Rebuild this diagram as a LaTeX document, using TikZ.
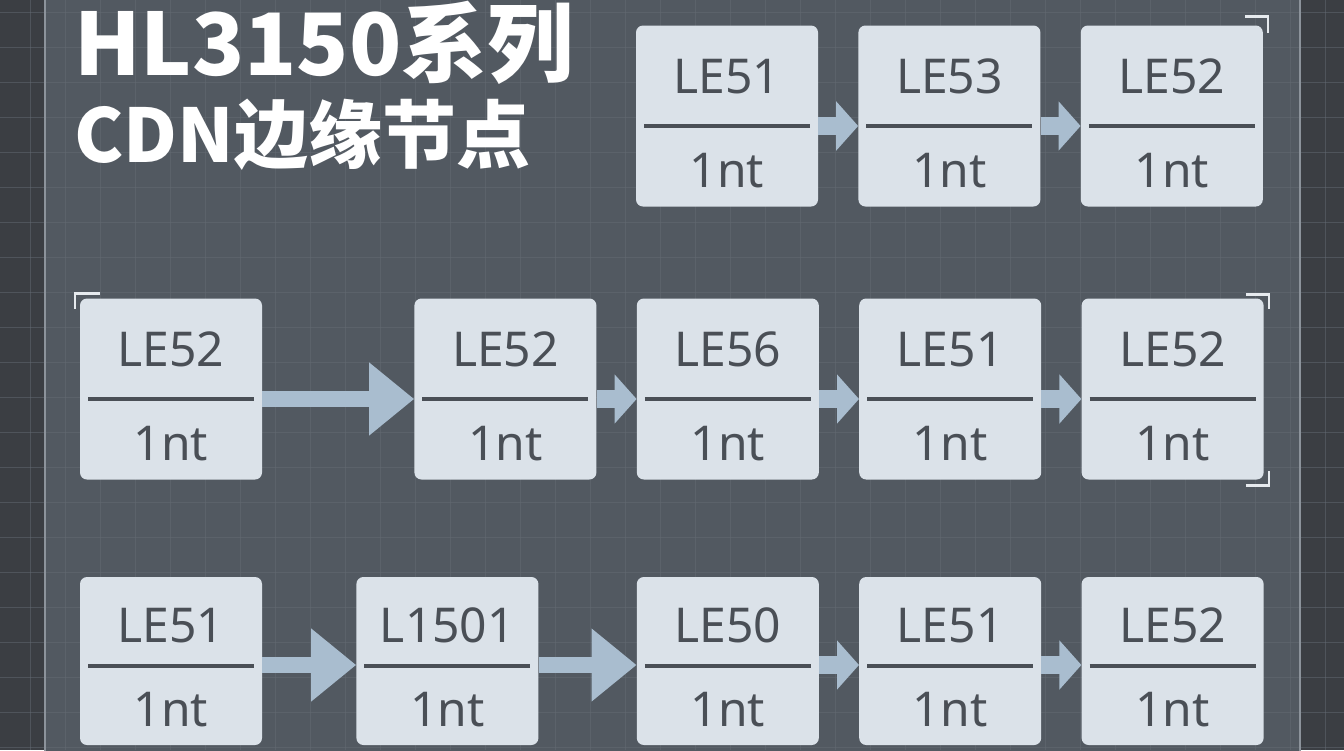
\documentclass[tikz,border=0pt]{standalone}
\usepackage{fontspec}
\setmainfont{Noto Sans}
\newfontfamily\cjk{Noto Sans CJK SC}
\usetikzlibrary{positioning, arrows.meta}

\definecolor{bgdark}{HTML}{3B3E43}
\definecolor{panel}{HTML}{525961}
\definecolor{panelline}{HTML}{8C939B}
\definecolor{gridc}{HTML}{646B73}
\definecolor{boxfill}{HTML}{DBE2E9}
\definecolor{txtcol}{HTML}{4A4F56}
\definecolor{arrowc}{HTML}{A9BDCF}
\definecolor{brk}{HTML}{E6EAEE}

\begin{document}
\begin{tikzpicture}[x=1pt, y=-1pt, node distance=40pt,
    cdn/.style={rectangle, rounded corners=7pt, fill=boxfill, text=txtcol,
      font=\fontsize{48}{48}\selectfont, minimum width=182pt, inner sep=0pt,
      text height=35pt},
    lowlbl/.style={font=\fontsize{48}{48}\selectfont, text=txtcol, inner sep=0pt},
    divider/.style={line width=4pt, txtcol},
    high/.style={cdn, minimum height=181pt, text depth=80pt,
      label={[lowlbl, yshift=-55pt]center:1nt},
      path picture={\draw[divider] ([xshift=8pt, yshift=-10pt]path picture bounding box.west)
        -- ([xshift=-8pt, yshift=-10pt]path picture bounding box.east);}},
    low/.style={cdn, minimum height=168pt, text depth=73pt,
      label={[lowlbl, yshift=-49pt]center:1nt},
      path picture={\draw[divider] ([xshift=8pt, yshift=-5pt]path picture bounding box.west)
        -- ([xshift=-8pt, yshift=-5pt]path picture bounding box.east);}},
    flowshort/.style={draw=arrowc, line width=18pt, -{Triangle[length=22pt, width=48pt]}},
    flowlong/.style={draw=arrowc, line width=16pt, -{Triangle[length=45pt, width=70pt]}},
    bracket/.style={draw=brk, line width=2.5pt},
    titletxt/.style={text=white, anchor=base west, inner sep=0pt}]

  % background and panel
  \useasboundingbox (0,0) rectangle (1344,750);
  \fill[bgdark] (0,0) rectangle (1344,750);
  \fill[panel] (45,-5) rectangle (1300,755);
  \foreach \gx in {30,65,...,1344} \draw[gridc, opacity=0.5, line width=0.8pt] (\gx,0) -- (\gx,750);
  \foreach \gy in {12,47,...,750} \draw[gridc, opacity=0.5, line width=0.8pt] (0,\gy) -- (1344,\gy);
  \draw[panelline, line width=2pt] (45,-5) -- (45,755);
  \draw[panelline, line width=2pt] (1300,-5) -- (1300,755);

  % title
  \node[titletxt, font=\cjk\bfseries\fontsize{86}{86}\selectfont] (title1) at (74,75) {HL3150系列};
  \node[titletxt, font=\cjk\bfseries\fontsize{74}{74}\selectfont] (title2) at (74,162) {CDN边缘节点};

  % row 1
  \node[high] (r1a) at (727,116) {LE51};
  \node[high, right=of r1a] (r1b) {LE53};
  \node[high, right=of r1b] (r1c) {LE52};
  \draw[flowshort] ([yshift=-10pt]r1a.east) -- ([yshift=-10pt]r1b.west);
  \draw[flowshort] ([yshift=-10pt]r1b.east) -- ([yshift=-10pt]r1c.west);

  % row 2
  \node[high] (r2a) at (171,389) {LE52};
  \node[high, right=152pt of r2a] (r2b) {LE52};
  \node[high, right=of r2b] (r2c) {LE56};
  \node[high, right=of r2c] (r2d) {LE51};
  \node[high, right=of r2d] (r2e) {LE52};
  \draw[flowlong] ([yshift=-10pt]r2a.east) -- ([yshift=-10pt]r2b.west);
  \draw[flowshort] ([yshift=-10pt]r2b.east) -- ([yshift=-10pt]r2c.west);
  \draw[flowshort] ([yshift=-10pt]r2c.east) -- ([yshift=-10pt]r2d.west);
  \draw[flowshort] ([yshift=-10pt]r2d.east) -- ([yshift=-10pt]r2e.west);

  % row 3
  \node[low] (r3a) at (171,661) {LE51};
  \node[low, right=94pt of r3a] (r3b) {L1501};
  \node[low, right=98pt of r3b] (r3c) {LE50};
  \node[low, right=of r3c] (r3d) {LE51};
  \node[low, right=of r3d] (r3e) {LE52};
  \draw[flowlong] ([yshift=-4pt]r3a.east) -- ([yshift=-4pt]r3b.west);
  \draw[flowlong] ([yshift=-4pt]r3b.east) -- ([yshift=-4pt]r3c.west);
  \draw[flowshort] ([yshift=-4pt]r3c.east) -- ([yshift=-4pt]r3d.west);
  \draw[flowshort] ([yshift=-4pt]r3d.east) -- ([yshift=-4pt]r3e.west);

  % corner marks
  \draw[bracket] ([xshift=5pt, yshift=9pt]r1c.north east) ++(-23,0) -- ++(23,0) -- ++(0,17);
  \draw[bracket] ([xshift=-5pt, yshift=5pt]r2a.north west) ++(25,0) -- ++(-25,0) -- ++(0,16);
  \draw[bracket] ([xshift=5pt, yshift=4pt]r2e.north east) ++(-23,0) -- ++(23,0) -- ++(0,15);
  \draw[bracket] ([xshift=5pt, yshift=-6pt]r2e.south east) ++(-23,0) -- ++(23,0) -- ++(0,-15);
\end{tikzpicture}
\end{document}
